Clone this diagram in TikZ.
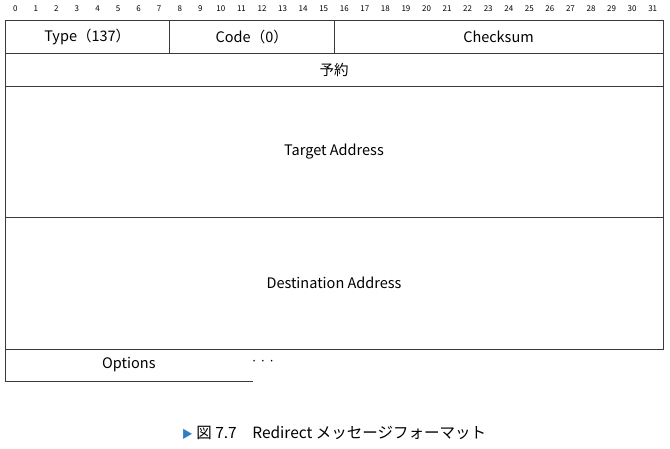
\documentclass[tikz,border=0pt]{standalone}
\usepackage{fontspec}
\setmainfont{Noto Sans CJK JP}
\usepackage{tikz}
\usetikzlibrary{calc}
\definecolor{lineGray}{HTML}{3a3a3a}
\definecolor{capBlue}{HTML}{2f7fc1}

\begin{document}
\begin{tikzpicture}[x=1pt,y=-1pt,
		field/.style={draw=lineGray, line width=.8pt, inner sep=0pt, outer sep=0pt,
			minimum height=#1, font=\fontsize{14.5}{16}\selectfont},
		bitno/.style={inner sep=0pt, font=\fontsize{8}{9}\selectfont}]
	\useasboundingbox (0,0) rectangle (670,448);
		% bit numbers
		\foreach \i in {0,...,31}
		{
			\node[bitno] (b\i) at ({5+20.5625*(\i+.5)},9) {\i};
		}
		% first row
		\foreach \x/\w/\alph/\name in {
			87.25/164.5/type/Type（137）,
			251.75/164.5/code/Code（0）,
			498.5/329/csum/Checksum
		}{
			\node[field=33pt, minimum width=\w pt] (\alph) at (\x,36.5) {\name};
		}
		\node[field=33pt, minimum width=658pt] (resv) at (334,69.5) {予約};
		\node[field=131.5pt, minimum width=658pt] (target) at (334,151.75) {Target Address};
		\node[field=131.5pt, minimum width=658pt] (dest) at (334,283.25) {Destination Address};
		% options (open at the right)
		\node[field=32pt, minimum width=247.75pt, draw=none] (opt) at (128.9,365) {Options};
		\draw[lineGray, line width=.8pt] (opt.north west) |- (opt.south east);
		\node[inner sep=0pt, font=\fontsize{12}{13}\selectfont] (dots) at (263,362.5) {·\hspace{2pt}·\hspace{2pt}·};
		% caption
		\node[inner sep=0pt, font=\fontsize{15.5}{18}\selectfont] (cap) at (334,433)
			{{\fontsize{11}{12}\selectfont\textcolor{capBlue}{▶}} 図 7.7\hspace{1em}Redirect メッセージフォーマット};
	\end{tikzpicture}
\end{document}
